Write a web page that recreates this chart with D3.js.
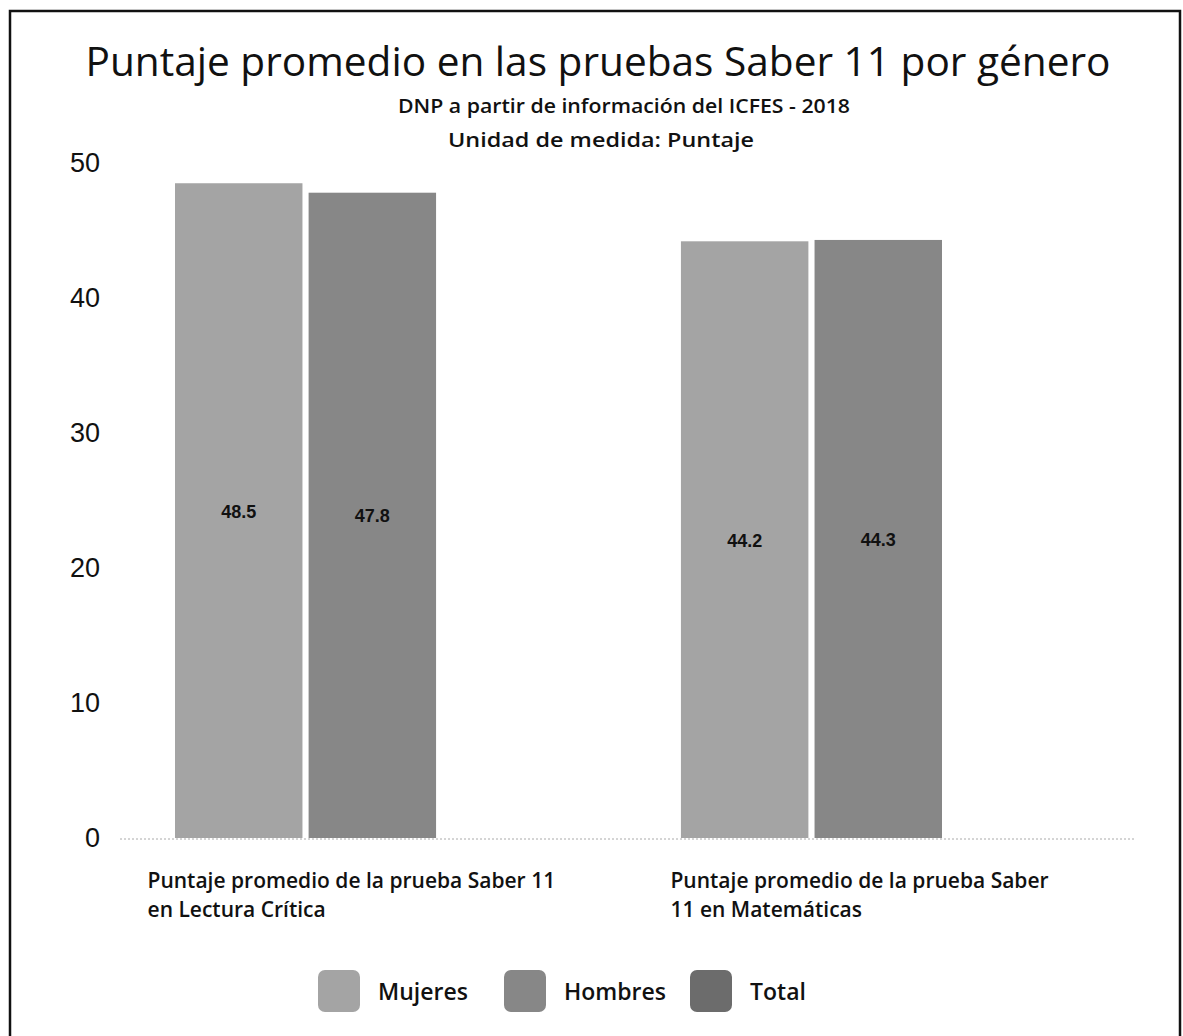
<!DOCTYPE html>
<html>
<head>
<meta charset="utf-8">
<script src="https://cdn.jsdelivr.net/npm/d3@7"></script>
<style>
  body { margin: 0; background: #fff; }
  svg { display: block; }
</style>
</head>
<body>
<div id="chart"></div>
<script>
// datos del gráfico
const categorias = [
  ["Puntaje promedio de la prueba Saber 11", "en Lectura Crítica"],
  ["Puntaje promedio de la prueba Saber", "11 en Matemáticas"]
];
const series = ["Mujeres", "Hombres", "Total"];
const mujeres = [48.5, 44.2];
const hombres = [47.8, 44.3];
const yTicks = [0, 10, 20, 30, 40, 50];

const titulo = "Puntaje promedio en las pruebas Saber 11 por género";
const subtitulo1 = "DNP a partir de información del ICFES - 2018";
const subtitulo2 = "Unidad de medida: Puntaje";

const width = 1183;
const height = 1036;
const font = "'Open Sans', 'Noto Sans', sans-serif";

const colores = d3.scaleOrdinal()
  .domain(series)
  .range(["#a4a4a4", "#878787", "#6c6c6c"]);

const svg = d3.select("#chart")
  .append("svg")
  .attr("width", width)
  .attr("height", height);

// marco
svg.append("rect")
  .attr("x", 10).attr("y", 11)
  .attr("width", 1170).attr("height", 1040)
  .attr("fill", "none")
  .attr("stroke", "#111")
  .attr("stroke-width", 2.5);

// títulos
svg.append("text")
  .attr("x", 598).attr("y", 76)
  .attr("text-anchor", "middle")
  .attr("font-family", font)
  .attr("font-size", 40)
  .attr("fill", "#111")
  .attr("textLength", 1025)
  .attr("lengthAdjust", "spacingAndGlyphs")
  .text(titulo);

svg.append("text")
  .attr("x", 624).attr("y", 113)
  .attr("text-anchor", "middle")
  .attr("font-family", font)
  .attr("font-size", 20)
  .attr("font-weight", 600)
  .attr("fill", "#111")
  .attr("textLength", 452)
  .attr("lengthAdjust", "spacingAndGlyphs")
  .text(subtitulo1);

svg.append("text")
  .attr("x", 601).attr("y", 147)
  .attr("text-anchor", "middle")
  .attr("font-family", font)
  .attr("font-size", 20)
  .attr("font-weight", 600)
  .attr("fill", "#111")
  .attr("textLength", 306)
  .attr("lengthAdjust", "spacingAndGlyphs")
  .text(subtitulo2);

// escalas
const y = d3.scaleLinear().domain([0, 50]).range([838, 163]);

const x0 = d3.scaleBand()
  .domain(d3.range(categorias.length))
  .range([175, 942])
  .paddingInner(0.484)
  .paddingOuter(0);

const x1 = d3.scaleBand()
  .domain(["Mujeres", "Hombres"])
  .range([0, x0.bandwidth()])
  .paddingInner(0.046);

// eje y (solo etiquetas)
const yAxis = svg.append("g")
  .attr("transform", "translate(100,0)")
  .call(d3.axisLeft(y).tickValues(yTicks).tickSize(0).tickPadding(0).tickFormat(d3.format("d")));
yAxis.select(".domain").remove();
yAxis.selectAll("text")
  .attr("font-family", "'Liberation Sans', Arial, sans-serif")
  .attr("font-size", 27)
  .attr("fill", "#111");

// línea base
svg.append("line")
  .attr("x1", 120).attr("x2", 1135)
  .attr("y1", y(0) + 1).attr("y2", y(0) + 1)
  .attr("stroke", "#aaa")
  .attr("stroke-width", 1)
  .attr("stroke-dasharray", "2,2");

// barras
const filas = categorias.map((c, i) => ({
  i,
  valores: [
    { serie: "Mujeres", valor: mujeres[i] },
    { serie: "Hombres", valor: hombres[i] }
  ]
}));

const grupos = svg.append("g")
  .selectAll("g")
  .data(filas)
  .join("g")
  .attr("transform", (d) => `translate(${x0(d.i)},0)`);

grupos.selectAll("rect")
  .data((d) => d.valores)
  .join("rect")
  .attr("x", (d) => x1(d.serie))
  .attr("y", (d) => y(d.valor))
  .attr("width", x1.bandwidth())
  .attr("height", (d) => y(0) - y(d.valor))
  .attr("fill", (d) => colores(d.serie));

grupos.selectAll("text")
  .data((d) => d.valores)
  .join("text")
  .attr("x", (d) => x1(d.serie) + x1.bandwidth() / 2)
  .attr("y", (d) => (y(d.valor) + y(0)) / 2 + 7)
  .attr("text-anchor", "middle")
  .attr("font-family", "'Liberation Sans', Arial, sans-serif")
  .attr("font-size", 18)
  .attr("font-weight", "bold")
  .attr("fill", "#111")
  .text((d) => d3.format(".1f")(d.valor));

// etiquetas de categoría
const etiquetas = svg.append("g")
  .selectAll("text")
  .data(categorias)
  .join("text")
  .attr("font-family", font)
  .attr("font-size", 21)
  .attr("font-weight", 600)
  .attr("fill", "#111");

etiquetas.selectAll("tspan")
  .data((d, i) => d.map((t) => ({ t, i })))
  .join("tspan")
  .attr("x", (d) => x0(d.i) + x0.bandwidth() / 2 - (d.i === 0 ? 158 : 141))
  .attr("y", (d, j) => 888 + j * 29)
  .text((d) => d.t);

// leyenda
const leyenda = svg.append("g")
  .selectAll("g")
  .data(series)
  .join("g")
  .attr("transform", (d, i) => `translate(${[318, 504, 690][i]},970)`);

leyenda.append("rect")
  .attr("width", 42).attr("height", 42)
  .attr("rx", 7)
  .attr("fill", (d) => colores(d));

leyenda.append("text")
  .attr("x", 60).attr("y", 30)
  .attr("font-family", font)
  .attr("font-size", 23)
  .attr("font-weight", 600)
  .attr("fill", "#111")
  .text((d) => d);
</script>
</body>
</html>
